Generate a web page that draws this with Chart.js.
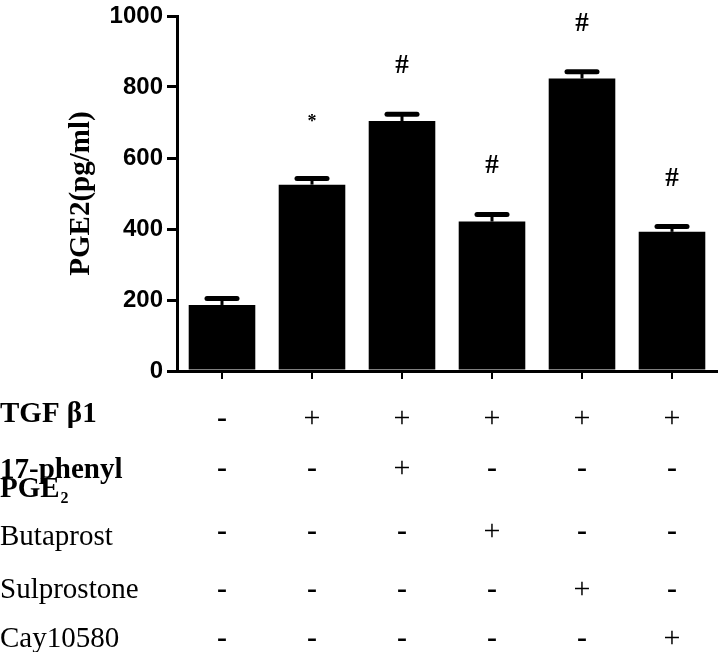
<!DOCTYPE html>
<html>
<head>
<meta charset="utf-8">
<script src="https://cdn.jsdelivr.net/npm/chart.js@4"></script>
<style>
  html, body { margin: 0; padding: 0; background: #fff; }
  #wrap { width: 720px; height: 652px; }
</style>
</head>
<body>
<div id="wrap"><canvas id="grafico"></canvas></div>
<script>
const grupos = ['Control', 'TGF β1', 'TGF β1 + 17-phenyl PGE2', 'TGF β1 + Butaprost', 'TGF β1 + Sulprostone', 'TGF β1 + Cay10580'];
const medias = [186, 525, 704, 421, 824, 392];
const erros = [18, 17, 19, 20, 19, 15];
const marcas = ['', '*', '#', '#', '#', '#'];
const ticksY = [0, 200, 400, 600, 800, 1000];

const linhaTGF = ['-', '+', '+', '+', '+', '+'];
const linhaFenil = ['-', '-', '+', '-', '-', '-'];
const linhaButaprost = ['-', '-', '-', '+', '-', '-'];
const linhaSulprostone = ['-', '-', '-', '-', '+', '-'];
const linhaCay = ['-', '-', '-', '-', '-', '+'];

const SERIF = '"Liberation Serif", "Times New Roman", serif';

// error bars + significance marks
const barrasErro = {
  id: 'barrasErro',
  afterDatasetsDraw(chart) {
    const ctx = chart.ctx;
    const y = chart.scales.y;
    const meta = chart.getDatasetMeta(0);
    ctx.save();
    ctx.strokeStyle = '#000';
    ctx.fillStyle = '#000';
    meta.data.forEach((bar, i) => {
      const topo = y.getPixelForValue(medias[i]);
      const cap = y.getPixelForValue(medias[i] + erros[i]);
      ctx.lineWidth = 3;
      ctx.lineCap = 'butt';
      ctx.beginPath();
      ctx.moveTo(bar.x, topo);
      ctx.lineTo(bar.x, cap);
      ctx.stroke();
      ctx.lineWidth = 5;
      ctx.lineCap = 'round';
      ctx.beginPath();
      ctx.moveTo(bar.x - 15, cap);
      ctx.lineTo(bar.x + 15, cap);
      ctx.stroke();
      if (marcas[i]) {
        ctx.textAlign = 'center';
        ctx.textBaseline = 'alphabetic';
        if (marcas[i] === '*') {
          ctx.font = 'bold 18px ' + SERIF;
          ctx.fillText(marcas[i], bar.x, cap - 52);
        } else {
          ctx.font = 'bold 27px ' + SERIF;
          ctx.fillText(marcas[i], bar.x, cap - 41);
        }
      }
    });
    ctx.restore();
  }
};

// treatment table under the axis
const tabela = {
  id: 'tabela',
  afterDraw(chart) {
    const ctx = chart.ctx;
    const x = chart.scales.x;
    const linhas = [linhaTGF, linhaFenil, linhaButaprost, linhaSulprostone, linhaCay];
    const ySinais = [427, 477, 540, 598, 647];
    ctx.save();
    ctx.fillStyle = '#000';
    ctx.textBaseline = 'alphabetic';

    ctx.textAlign = 'left';
    ctx.font = 'bold 29px ' + SERIF;
    ctx.fillText('TGF β1', 0, 422);
    ctx.fillText('17-phenyl', 0, 478);
    ctx.fillText('PGE', 0, 497);
    const w = ctx.measureText('PGE').width;
    ctx.font = 'bold 16px ' + SERIF;
    ctx.fillText('2', w + 1, 503);
    ctx.font = '29px ' + SERIF;
    ctx.fillText('Butaprost', 0, 545);
    ctx.fillText('Sulprostone', 0, 598);
    ctx.fillText('Cay10580', 0, 647);

    ctx.textAlign = 'center';
    linhas.forEach((linha, r) => {
      linha.forEach((s, i) => {
        ctx.font = (s === '-' ? 'bold 30px ' : '30px ') + SERIF;
        ctx.fillText(s, x.getPixelForValue(i), ySinais[r]);
      });
    });
    ctx.restore();
  }
};

new Chart(document.getElementById('grafico'), {
  type: 'bar',
  data: {
    labels: grupos,
    datasets: [{
      data: medias,
      backgroundColor: '#000',
      borderWidth: 0,
      barPercentage: 0.74,
      categoryPercentage: 1.0
    }]
  },
  options: {
    responsive: true,
    maintainAspectRatio: false,
    animation: false,
    layout: { padding: { top: 12, right: 3, left: 0, bottom: 0 } },
    plugins: { legend: { display: false }, tooltip: { enabled: false } },
    scales: {
      x: {
        afterFit(scale) { scale.height = 281; },
        ticks: { display: false },
        grid: { display: true, offset: false, drawOnChartArea: false, drawTicks: true, tickLength: 8, color: '#000', lineWidth: 2 },
        border: { display: true, color: '#000', width: 3 }
      },
      y: {
        min: 0,
        max: 1000,
        afterFit(scale) { scale.width = 177; },
        afterBuildTicks(scale) { scale.ticks = ticksY.map(v => ({ value: v })); },
        ticks: {
          color: '#000',
          padding: 4,
          callback: v => String(v),
          font: { family: '"Liberation Sans", Arial, sans-serif', size: 24, weight: 'bold', lineHeight: 1 }
        },
        grid: { drawOnChartArea: false, drawTicks: true, tickLength: 10, color: '#000', lineWidth: 3 },
        border: { display: true, color: '#000', width: 3 },
        title: {
          display: true,
          text: 'PGE2(pg/ml)',
          color: '#000',
          font: { family: SERIF, size: 29, weight: 'bold' },
          padding: { top: 64, bottom: 0 }
        }
      }
    }
  },
  plugins: [barrasErro, tabela]
});
</script>
</body>
</html>
